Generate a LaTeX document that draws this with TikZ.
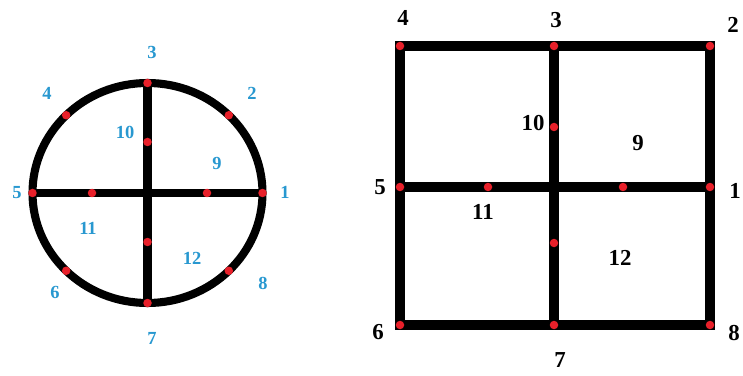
\documentclass[tikz,border=0pt]{standalone}
\usepackage{fontspec}
\setmainfont{Liberation Serif}
\usetikzlibrary{positioning}
\definecolor{ptRed}{RGB}{232,32,42}
\definecolor{ptBlue}{RGB}{40,152,208}
\def\ringWidth{4.6pt}
\def\barWidth{5.6pt}
\def\circFont{\fontsize{10.5}{12}\selectfont\bfseries}
\def\gridFont{\fontsize{13}{15}\selectfont\bfseries}
\tikzset{% point and label styles
  pnt/.style       = {circle, fill=ptRed, inner sep=0, minimum size=0.17cm},
  circlabel/.style = {text=ptBlue, font=\circFont, inner sep=0},
  gridlabel/.style = {text=black, font=\gridFont, inner sep=0},
  ring/.style      = {draw=black, line width=\ringWidth},
  bar/.style       = {draw=black, line width=\barWidth},
}
\begin{document}
\begin{tikzpicture}
  \useasboundingbox (0,0) rectangle (14.86,7.5);

  % Circle
  \begin{scope}[shift={(2.95,3.64)}]
    \coordinate (O) at (0,0);
    \foreach \a/\n in {0/1,45/2,90/3,135/4,180/5,225/6,270/7,315/8}
      \coordinate (c\n) at (\a:2.3 and 2.2);
    \coordinate (c9) at (1.19,0);
    \coordinate (c10) at (0,1.02);
    \coordinate (c11) at (-1.11,0);
    \coordinate (c12) at (0,-0.98);

    \draw[ring] (O) ellipse [x radius=2.3, y radius=2.2];
    \draw[ring] (c5) -- (c1);
    \draw[ring] (c3) -- (c7);

    \foreach \n in {1,...,12}
      \node[pnt] (pc\n) at (c\n) {};

    \foreach \n/\x/\y in {1/2.75/0.02, 2/2.09/2.0, 3/0.09/2.82, 4/-2.01/2.0,
        5/-2.61/0, 6/-1.85/-1.98, 7/0.09/-2.9, 8/2.31/-1.80,
        9/1.39/0.60, 10/-0.45/1.22, 11/-1.19/-0.70, 12/0.89/-1.30}
      \node[circlabel] (lc\n) at (\x,\y) {\n};
  \end{scope}

  % Square
  \begin{scope}[shift={(11.08,3.76)}]
    \coordinate (s1) at (3.12,0);
    \coordinate (s2) at (3.12,2.82);
    \coordinate (s3) at (0,2.82);
    \coordinate (s4) at (-3.08,2.82);
    \coordinate (s5) at (-3.08,0);
    \coordinate (s6) at (-3.08,-2.76);
    \coordinate (s7) at (0,-2.76);
    \coordinate (s8) at (3.12,-2.76);
    \coordinate (s9) at (1.38,0);
    \coordinate (s10) at (0,1.20);
    \coordinate (s11) at (-1.32,0);
    \coordinate (s12) at (0,-1.12);

    \draw[bar] (s4) -- (s2) -- (s8) -- (s6) -- cycle;
    \draw[bar] (s5) -- (s1);
    \draw[bar] (s3) -- (s7);

    \foreach \n in {1,...,12}
      \node[pnt] (ps\n) at (s\n) {};

    \foreach \n/\x/\y in {1/3.62/-0.08, 2/3.58/3.24, 3/0.04/3.34, 4/-3.02/3.38,
        5/-3.48/0, 6/-3.52/-2.90, 7/0.12/-3.46, 8/3.60/-2.92,
        9/1.68/0.88, 10/-0.42/1.28, 11/-1.42/-0.50, 12/1.32/-1.42}
      \node[gridlabel] (ls\n) at (\x,\y) {\n};
  \end{scope}
\end{tikzpicture}
\end{document}
